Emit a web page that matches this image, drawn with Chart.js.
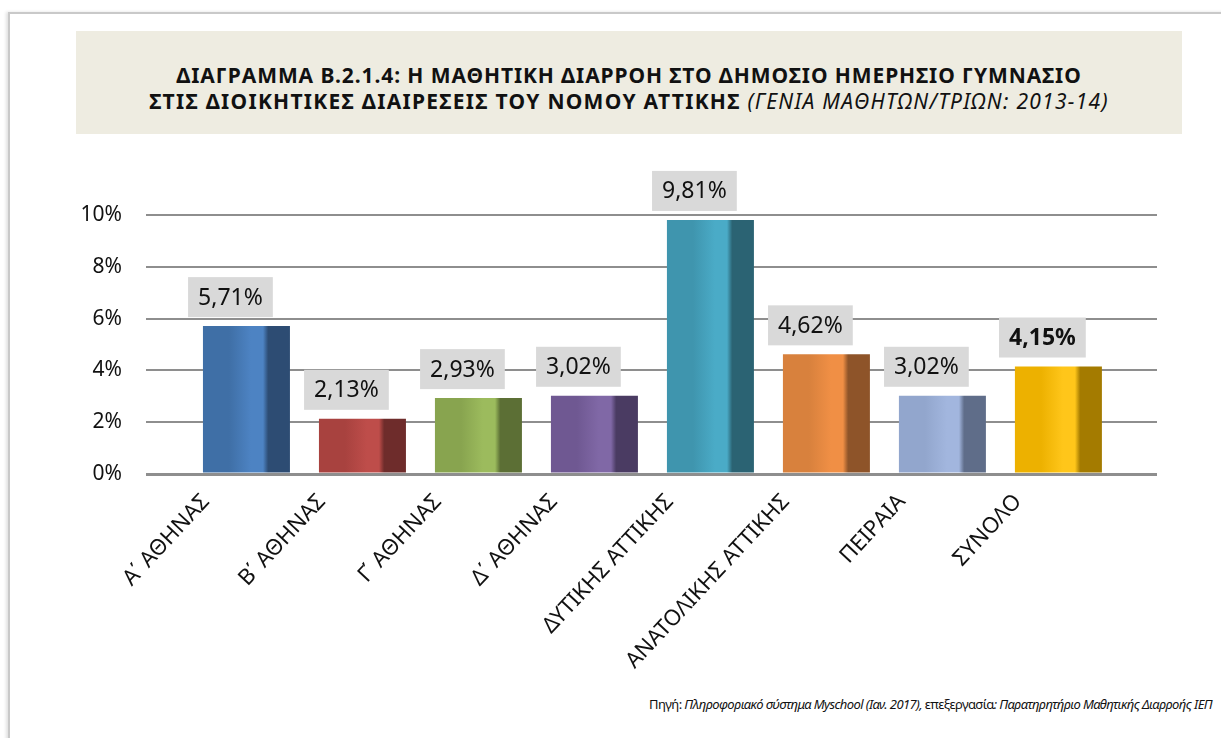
<!DOCTYPE html>
<html lang="el">
<head>
<meta charset="utf-8">
<script src="https://cdn.jsdelivr.net/npm/chart.js@4/dist/chart.umd.min.js"></script>
<style>
    body { margin: 0; width: 1221px; height: 738px; overflow: hidden; background: #fff; font-family: "Noto Sans", sans-serif; }
    #frame { position: absolute; left: 8px; top: 12px; width: 1240px; height: 760px; border: 2px solid #c9c9c9; box-shadow: -2px 0 3px rgba(0,0,0,0.12); }
    #titleBox { position: absolute; left: 76px; top: 31px; width: 1106px; height: 103px; background: #eeece1; }
    #titleBox p { margin: 0; position: absolute; left: 0; width: 100%; text-align: center; font-weight: bold; font-size: 21px; letter-spacing: 0.9px; color: #111; white-space: nowrap; }
    #titleBox i { font-weight: normal; }
    #source { position: absolute; right: 9px; top: 695px; font-size: 13px; letter-spacing: -0.6px; color: #111; white-space: nowrap; }
    #wrap { position: absolute; left: 0; top: 150px; }
</style>
</head>
<body>
<div id="frame"></div>
<div id="titleBox">
    <p style="top:30px">ΔΙΑΓΡΑΜΜΑ Β.2.1.4: Η ΜΑΘΗΤΙΚΗ ΔΙΑΡΡΟΗ ΣΤΟ ΔΗΜΟΣΙΟ ΗΜΕΡΗΣΙΟ ΓΥΜΝΑΣΙΟ</p>
    <p style="top:56px; letter-spacing: 1.3px">ΣΤΙΣ ΔΙΟΙΚΗΤΙΚΕΣ ΔΙΑΙΡΕΣΕΙΣ ΤΟΥ ΝΟΜΟΥ ΑΤΤΙΚΗΣ <i>(ΓΕΝΙΑ ΜΑΘΗΤΩΝ/ΤΡΙΩΝ: 2013-14)</i></p>
</div>
<div id="wrap"><canvas id="graficoDiarroi" width="1221" height="540"></canvas></div>
<div id="source">Πηγή: <i>Πληροφοριακό σύστημα Myschool (Ιαν. 2017),</i> επεξεργασία<i>: Παρατηρητήριο Μαθητικής Διαρροής ΙΕΠ</i></div>

<script>
const perifereies = ["Α΄ ΑΘΗΝΑΣ", "Β΄ ΑΘΗΝΑΣ", "Γ΄ ΑΘΗΝΑΣ", "Δ΄ ΑΘΗΝΑΣ", "ΔΥΤΙΚΗΣ ΑΤΤΙΚΗΣ", "ΑΝΑΤΟΛΙΚΗΣ ΑΤΤΙΚΗΣ", "ΠΕΙΡΑΙΑ", "ΣΥΝΟΛΟ"];
const pososta = [5.71, 2.13, 2.93, 3.02, 9.81, 4.62, 3.02, 4.15];
const yTicks = [0, 2, 4, 6, 8, 10];

// base, light, dark for each bar
const xromata = [
    ["#3f6fa6", "#4d83c3", "#2d4c73"],
    ["#a8423f", "#be4d4a", "#6e2c2b"],
    ["#88a44f", "#9cbb5d", "#5c6f35"],
    ["#6f5892", "#8068a6", "#4a3b62"],
    ["#3f95ae", "#4aabc7", "#2b6373"],
    ["#d8813d", "#f08f45", "#8e5429"],
    ["#92a6cd", "#a2b6de", "#5f6d89"],
    ["#edb100", "#ffc61a", "#a47b00"]
];

const xMin = -0.866;
const xMax = 7.85;
const labelShift = 0.35;

function gradientBar(ctx) {
    const chart = ctx.chart;
    const c = xromata[ctx.dataIndex] || xromata[0];
    if (!chart.chartArea) return c[0];
    const x = chart.scales.x.getPixelForValue(ctx.dataIndex);
    const half = 43.5;
    const g = chart.ctx.createLinearGradient(x - half, 0, x + half, 0);
    g.addColorStop(0, c[0]);
    g.addColorStop(0.3, c[0]);
    g.addColorStop(0.55, c[1]);
    g.addColorStop(0.69, c[1]);
    g.addColorStop(0.75, c[2]);
    g.addColorStop(1, c[2]);
    return g;
}

const etiketesTimon = {
    id: 'etiketesTimon',
    afterDatasetsDraw(chart) {
        const ctx = chart.ctx;
        const meta = chart.getDatasetMeta(0);
        ctx.save();
        meta.data.forEach((bar, i) => {
            const text = pososta[i].toFixed(2).replace('.', ',') + '%';
            const bold = i === pososta.length - 1;
            ctx.font = (bold ? 'bold ' : '') + '23px "Noto Sans"';
            const w = ctx.measureText(text).width + 20;
            const h = 40;
            const cx = bar.x - 16;
            const bottom = bar.y - 9;
            ctx.fillStyle = '#d9d9d9';
            ctx.fillRect(cx - w / 2, bottom - h, w, h);
            ctx.fillStyle = '#111';
            ctx.textAlign = 'center';
            ctx.textBaseline = 'middle';
            ctx.fillText(text, cx, bottom - h / 2 + 1);
        });
        ctx.restore();
    }
};

new Chart(document.getElementById('graficoDiarroi'), {
    type: 'bar',
    data: {
        datasets: [{
            data: pososta.map((v, i) => ({ x: i, y: v })),
            backgroundColor: gradientBar,
            borderWidth: 0,
            barPercentage: 0.75,
            categoryPercentage: 1
        }]
    },
    options: {
        responsive: false,
        devicePixelRatio: 1,
        animation: false,
        layout: { padding: { left: 46, right: 64, top: 65, bottom: 16 } },
        plugins: { legend: { display: false }, tooltip: { enabled: false } },
        scales: {
            x: {
                type: 'linear', min: xMin, max: xMax, offset: false, display: false,
                grid: { offset: false },
                ticks: { stepSize: 1, includeBounds: false }
            },
            xl: {
                type: 'linear',
                position: 'bottom',
                min: xMin + labelShift,
                max: xMax + labelShift,
                offset: false,
                grid: { display: false, offset: false },
                border: { display: false },
                afterFit: (s) => { s.height = 200; },
                ticks: {
                    stepSize: 1,
                    includeBounds: false,
                    autoSkip: false,
                    minRotation: 47,
                    maxRotation: 47,
                    padding: 7,
                    color: '#111',
                    font: { family: '"Noto Sans"', size: 22 },
                    callback: (v) => (Number.isInteger(v) && perifereies[v]) ? perifereies[v] : ''
                }
            },
            y: {
                min: 0,
                max: 10,
                afterFit: (s) => { s.width = 100; },
                afterBuildTicks: (s) => { s.ticks = yTicks.map((v) => ({ value: v })); },
                border: { display: false },
                grid: {
                    color: '#8e8e8e',
                    lineWidth: (c) => (c.tick && c.tick.value === 0 ? 3 : 2),
                    drawTicks: false
                },
                ticks: {
                    padding: 24,
                    color: '#111',
                    font: { family: '"Noto Sans"', size: 21 },
                    callback: (v) => v + '%'
                }
            }
        }
    },
    plugins: [etiketesTimon]
});
</script>
</body>
</html>
